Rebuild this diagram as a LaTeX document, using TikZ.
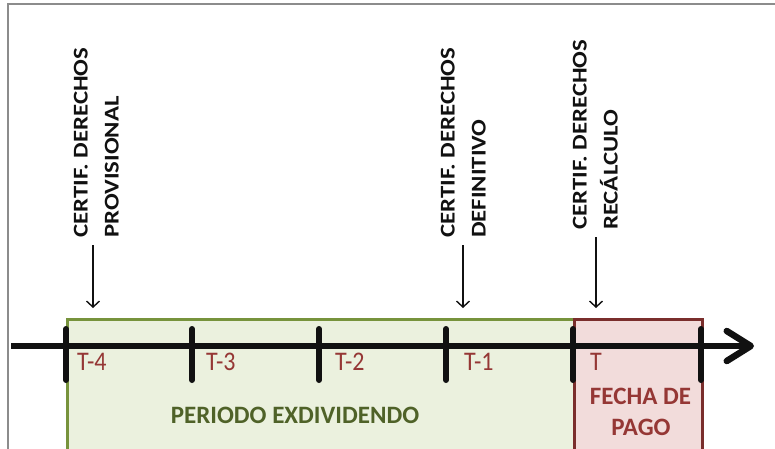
\documentclass[tikz,border=0pt]{standalone}
\usepackage{fontspec}
\setmainfont{Carlito}
\usetikzlibrary{arrows.meta}
\definecolor{framegrey}{HTML}{8C8C8C}
\definecolor{gfill}{HTML}{EBF1DE}
\definecolor{gline}{HTML}{77933C}
\definecolor{gtext}{HTML}{4F6228}
\definecolor{rfill}{HTML}{F2DCDB}
\definecolor{rline}{HTML}{7A2E2C}
\definecolor{rtext}{HTML}{953735}
\definecolor{ink}{HTML}{111111}
\newcommand{\tallT}[1]{\scalebox{1}[1.12]{#1}}
\newcommand{\vtwo}[2]{\scalebox{1.18}[1]{\begin{tabular}{@{}l@{}}#1\\#2\end{tabular}}}
\begin{document}
\begin{tikzpicture}[x=1pt,y=-1pt,
  periodbox/.style={draw=gline,fill=gfill,line width=3pt,anchor=north west,inner sep=0pt,minimum height=140pt},
  paybox/.style={draw=rline,fill=rfill,line width=3pt,anchor=north west,inner sep=0pt,minimum height=140pt},
  axisline/.style={draw=ink,line width=6.5pt,-{Straight Barb[length=24pt,width=30pt,round]}},
  tickmark/.style={draw=ink,line width=6pt,line cap=round},
  tlabel/.style={text=rtext,font=\fontsize{24}{28}\selectfont,anchor=base west,inner sep=0pt},
  bigtext/.style={font=\bfseries\fontsize{25}{31}\selectfont,inner sep=0pt,anchor=base},
  vlabel/.style={rotate=90,anchor=west,inner sep=0pt,font=\bfseries\fontsize{21}{31}\selectfont,text=ink},
  thinarrow/.style={draw=ink,line width=1.4pt,-{Straight Barb[length=6pt,width=13pt]}}]
\useasboundingbox (0,0) rectangle (775,448);
\draw[framegrey,line width=1.5pt] (8,460) -- (8,4) -- (790,4);
\node[periodbox,minimum width=507pt] (period) at (66,318) {};
\node[paybox,minimum width=128pt] (pay) at (573,318) {};
\coordinate (a0) at (11,346);
\coordinate (a1) at (754,346);
\draw[axisline] (a0) -- (a1);
\foreach \x/\n in {66/0,192/1,319/2,446/3,573/4,701/5}{
  \coordinate (tt\n) at (\x,329);
  \coordinate (tb\n) at (\x,380);
  \draw[tickmark] (tt\n) -- (tb\n);
}
\node[tlabel] (t4) at (77,370) {\tallT{T-4}};
\node[tlabel] (t3) at (206,370) {\tallT{T-3}};
\node[tlabel] (t2) at (335,370) {\tallT{T-2}};
\node[tlabel] (t1) at (464,370) {\tallT{T-1}};
\node[tlabel] (t0) at (590,370) {\tallT{T}};
\node[bigtext,text=gtext] (exd) at (295,423) {PERIODO EXDIVIDENDO};
\node[bigtext,text=rtext] (fecha) at (640.5,404) {FECHA DE};
\node[bigtext,text=rtext] (pago) at (641,435) {PAGO};
\node[vlabel] (c1) at (97,238) {\vtwo{CERTIF. DERECHOS}{PROVISIONAL}};
\node[vlabel] (c2) at (464,238) {\vtwo{CERTIF. DERECHOS}{DEFINITIVO}};
\node[vlabel] (c3) at (596,230) {\vtwo{CERTIF. DERECHOS}{RECÁLCULO}};
\coordinate (s1) at (93,245); \coordinate (e1) at (93,308);
\coordinate (s2) at (463,245); \coordinate (e2) at (463,308);
\coordinate (s3) at (596,237); \coordinate (e3) at (596,308);
\draw[thinarrow] (s1) -- (e1);
\draw[thinarrow] (s2) -- (e2);
\draw[thinarrow] (s3) -- (e3);
\end{tikzpicture}
\end{document}
